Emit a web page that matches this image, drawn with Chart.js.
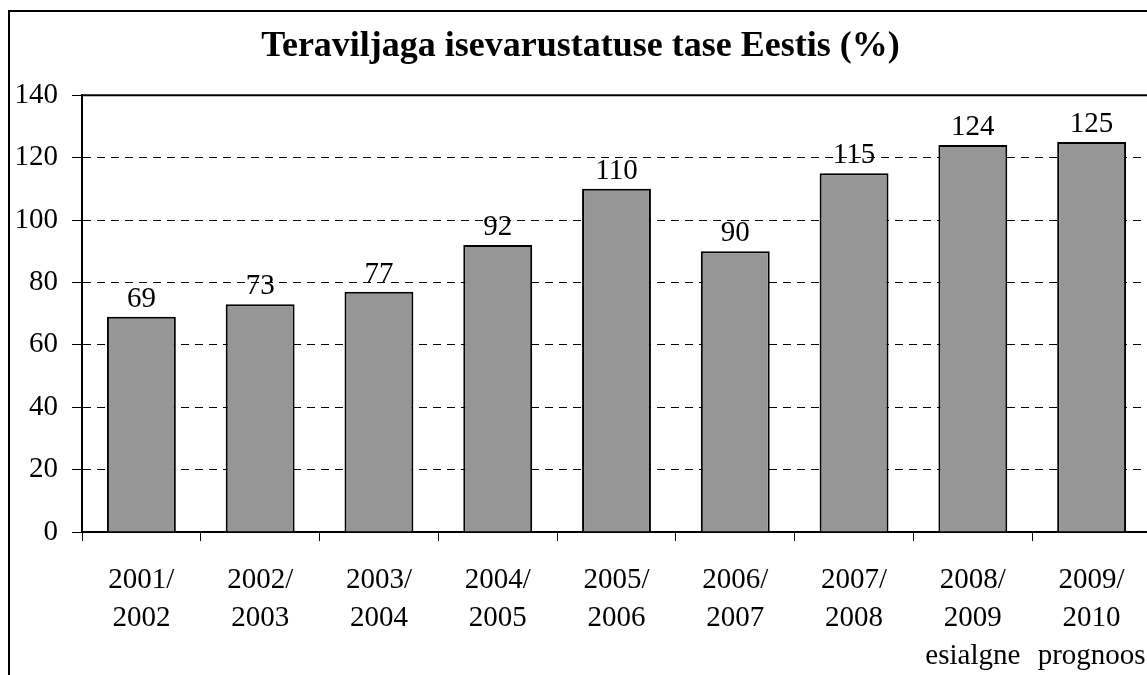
<!DOCTYPE html>
<html>
<head>
<meta charset="utf-8">
<script src="https://cdn.jsdelivr.net/npm/chart.js@4"></script>
<style>
  html, body { margin: 0; padding: 0; background: #fff; overflow: hidden; }
  #frame {
    position: absolute; left: 8px; top: 10px;
    width: 1200px; height: 700px;
    border-left: 2px solid #000; border-top: 2px solid #000;
  }
  #myChart { position: absolute; left: 0; top: 0; }
</style>
</head>
<body>
<div id="frame"><canvas id="myChart" width="1164" height="700"></canvas></div>
<script>
const title = 'Teraviljaga isevarustatuse tase Eestis (%)';
const categories = [
  ['2001/', '2002'], ['2002/', '2003'], ['2003/', '2004'],
  ['2004/', '2005'], ['2005/', '2006'], ['2006/', '2007'],
  ['2007/', '2008'], ['2008/', '2009', 'esialgne'], ['2009/', '2010', 'prognoos']
];
const values = [69, 73, 77, 92, 110, 90, 115, 124, 125];
const yMin = 0, yMax = 140, yStep = 20;

const serif = '"Liberation Serif", "Times New Roman", serif';

// values above the bars
const barLabels = {
  id: 'barLabels',
  afterDatasetsDraw(chart) {
    const ctx = chart.ctx;
    const meta = chart.getDatasetMeta(0);
    ctx.save();
    ctx.font = '29px ' + serif;
    ctx.fillStyle = '#000';
    ctx.textAlign = 'center';
    ctx.textBaseline = 'alphabetic';
    meta.data.forEach((bar, i) => {
      ctx.fillText(values[i], bar.x, bar.y - 10);
    });
    ctx.restore();
  }
};

// solid top edge of the plot area
const topEdge = {
  id: 'topEdge',
  afterDraw(chart) {
    const a = chart.chartArea, ctx = chart.ctx;
    ctx.save();
    ctx.strokeStyle = '#000';
    ctx.lineWidth = 2;
    ctx.beginPath();
    ctx.moveTo(a.left, a.top);
    ctx.lineTo(a.right, a.top);
    ctx.stroke();
    ctx.restore();
  }
};

new Chart(document.getElementById('myChart'), {
  type: 'bar',
  data: {
    labels: categories,
    datasets: [{
      data: values,
      backgroundColor: '#969696',
      borderColor: '#000',
      borderWidth: 2,
      categoryPercentage: 1,
      barPercentage: 0.58
    }]
  },
  options: {
    responsive: false,
    animation: false,
    devicePixelRatio: 1,
    layout: { padding: { left: 0, right: 23, top: 0, bottom: 0 } },
    plugins: {
      legend: { display: false },
      tooltip: { enabled: false },
      title: {
        display: true,
        text: title,
        color: '#000',
        font: { family: serif, size: 36, weight: 'bold', lineHeight: 1.2 },
        padding: { top: 13, bottom: 27 }
      }
    },
    scales: {
      x: {
        afterFit: s => { s.height = 180; },
        grid: { display: true, drawOnChartArea: false, offset: true, color: '#000', tickLength: 9, tickWidth: 1 },
        border: { display: true, color: '#000', width: 2 },
        ticks: {
          color: '#000',
          font: { family: serif, size: 29, lineHeight: 1.3 },
          padding: 21,
          maxRotation: 0,
          autoSkip: false
        }
      },
      y: {
        min: yMin,
        max: yMax,
        afterFit: s => { s.width = 72; },
        grid: { color: '#000', lineWidth: 1, tickLength: 10, tickColor: '#000' },
        border: { display: true, color: '#000', width: 2, dash: [8, 6] },
        ticks: {
          stepSize: yStep,
          color: '#000',
          font: { family: serif, size: 29 },
          padding: 14
        }
      }
    }
  },
  plugins: [barLabels, topEdge]
});
</script>
</body>
</html>
